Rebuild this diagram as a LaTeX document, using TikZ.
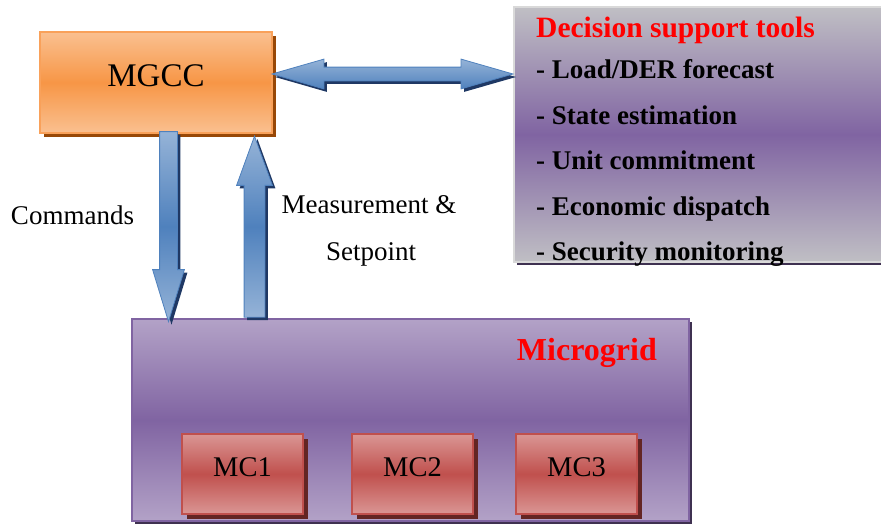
\documentclass[tikz,border=0pt]{standalone}
\usepackage{fontspec}
\setmainfont{Liberation Serif}
\usetikzlibrary{shapes.arrows,shadows}

\definecolor{orangelight}{HTML}{FAC090}
\definecolor{orangemid}{HTML}{F79646}
\definecolor{orangeline}{HTML}{F9A15A}
\definecolor{orangeshadow}{HTML}{984807}
\definecolor{purplelight}{HTML}{B3A2C7}
\definecolor{purplemid}{HTML}{8064A2}
\definecolor{purpleshadow}{HTML}{3F3151}
\definecolor{greylight}{HTML}{C0BFC4}
\definecolor{greyline}{HTML}{D9D9D9}
\definecolor{redlight}{HTML}{DA9694}
\definecolor{redmid}{HTML}{C0504D}
\definecolor{redshadow}{HTML}{632523}
\definecolor{bluelight}{HTML}{95B3D7}
\definecolor{bluemid}{HTML}{4F81BD}
\definecolor{blueshadow}{HTML}{1F3864}
\definecolor{titlered}{HTML}{FF0000}

\tikzset{
  mgccbox/.style={draw=orangeline, line width=1.5pt, top color=orangelight, bottom color=orangelight, middle color=orangemid,
    drop shadow={shadow xshift=4pt, shadow yshift=-4pt, fill=orangeshadow, opacity=1},
    minimum width=232pt, minimum height=101pt, text depth=13pt, font=\fontsize{33}{38}\selectfont},
  toolbox/.style={draw=greyline, line width=2pt, top color=greylight, bottom color=greylight, middle color=purplemid,
    drop shadow={shadow xshift=3pt, shadow yshift=-3pt, fill=purpleshadow, opacity=1},
    minimum width=370pt, minimum height=255pt},
  gridbox/.style={draw=purplemid, line width=1.5pt, top color=purplelight, bottom color=purplelight, middle color=purplemid,
    drop shadow={shadow xshift=3pt, shadow yshift=-3pt, fill=purpleshadow, opacity=1},
    minimum width=557pt, minimum height=202pt},
  mcbox/.style={draw=redmid, line width=1.5pt, top color=redlight, bottom color=redlight, middle color=redmid,
    drop shadow={shadow xshift=5pt, shadow yshift=-5pt, fill=redshadow, opacity=1},
    minimum width=121pt, minimum height=80pt, text depth=13pt, font=\fontsize{28.5}{32}\selectfont},
  blockarrow/.style={draw=bluemid, line width=0.8pt, top color=bluelight, bottom color=bluelight, middle color=bluemid,
    drop shadow={shadow xshift=3pt, shadow yshift=-3pt, fill=blueshadow, opacity=1}},
  plaintext/.style={anchor=base, inner sep=0pt, font=\fontsize{27}{30}\selectfont},
  tooltext/.style={anchor=base west, inner sep=0pt, font=\bfseries\fontsize{27}{30}\selectfont},
  redtitle/.style={inner sep=0pt, text=titlered, font=\bfseries\fontsize{29.5}{34}\selectfont}
}

\begin{document}
\begin{tikzpicture}[x=1pt,y=-1pt]
\useasboundingbox (0,0) rectangle (881,525);

% boxes
\node[mgccbox] (mgcc) at (156,82.5) {MGCC};
\node[toolbox] (tools) at (699,134.5) {};
\node[gridbox] (grid) at (410.5,420) {};
\node[mcbox] (mc1) at (242.5,474) {MC1};
\node[mcbox] (mc2) at (412.5,474) {MC2};
\node[mcbox] (mc3) at (576.5,474) {MC3};

% texts
\node[redtitle, anchor=base west] (toolstitle) at (536,37) {Decision support tools};
\node[tooltext] (t1) at (536,78)  {- Load/DER forecast};
\node[tooltext] (t2) at (536,124) {- State estimation};
\node[tooltext] (t3) at (536,169) {- Unit commitment};
\node[tooltext] (t4) at (536,215) {- Economic dispatch};
\node[tooltext] (t5) at (536,260) {- Security monitoring};
\node[redtitle, anchor=base east, font=\bfseries\fontsize{32}{36}\selectfont] (gridtitle) at (657,360) {Microgrid};

% block arrows
\node[blockarrow, double arrow, top color=bluelight, bottom color=bluemid, inner xsep=0pt, inner ysep=6.5pt,
  minimum height=241pt, minimum width=29pt, double arrow head extend=8pt, double arrow tip angle=32] (link) at (392.5,74) {};
\node[blockarrow, single arrow, shape border rotate=270, inner sep=8.5pt, minimum height=190pt, minimum width=31pt,
  single arrow head extend=7pt, single arrow tip angle=34, anchor=tip] (cmd) at (168.5,323) {};
\node[blockarrow, single arrow, shape border rotate=90, inner sep=10pt, minimum height=181pt, minimum width=35pt,
  single arrow head extend=7.5pt, single arrow tip angle=40, anchor=tip] (meas) at (254.5,135) {};

\node[plaintext] (cmdtext) at (72.5,224) {Commands};
\node[plaintext] (meastext) at (369,213) {Measurement \&};
\node[plaintext] (setptext) at (371,260) {Setpoint};
\end{tikzpicture}
\end{document}
